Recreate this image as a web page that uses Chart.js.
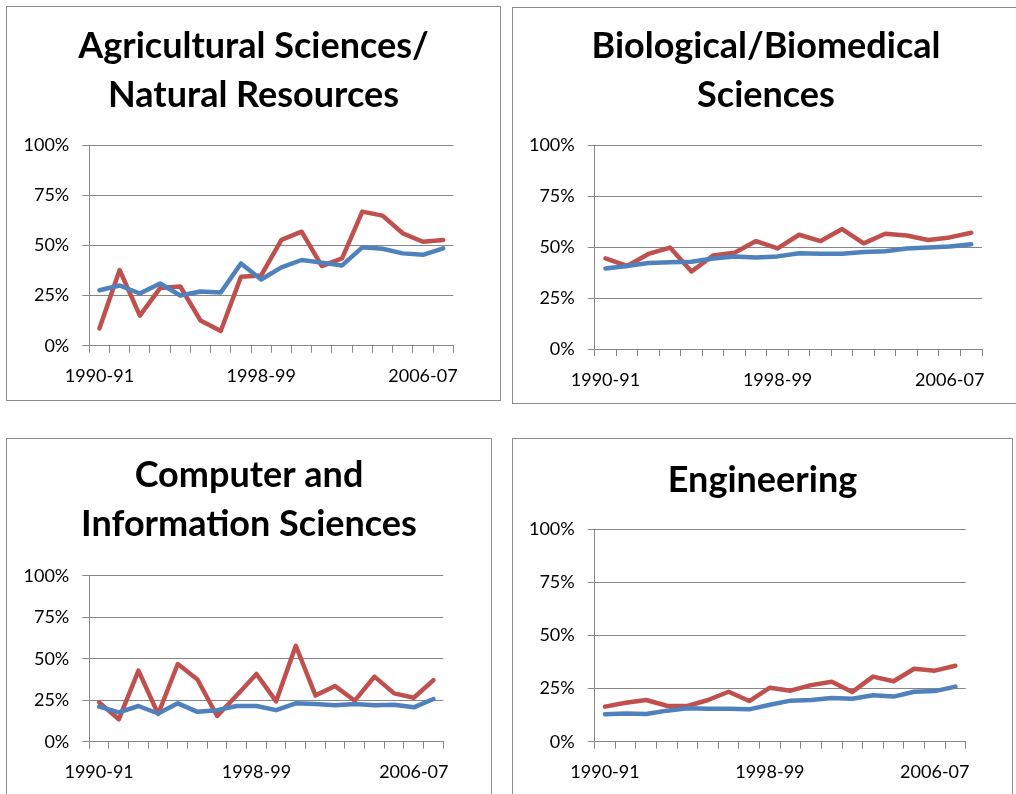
<!DOCTYPE html>
<html>
<head>
<meta charset="utf-8">
<script src="https://cdn.jsdelivr.net/npm/chart.js@4.4.1/dist/chart.umd.min.js"></script>
<style>
    html, body { margin: 0; padding: 0; background: #fff; overflow: hidden; }
    body { width: 1016px; height: 794px; position: relative; }
    .panel { position: absolute; border: 1px solid #8c8c8c; background: #fff; }
    .panel canvas { display: block; }
</style>
</head>
<body>
<div class="panel" id="p1"><canvas id="agChart"></canvas></div>
<div class="panel" id="p2"><canvas id="bioChart"></canvas></div>
<div class="panel" id="p3"><canvas id="csChart"></canvas></div>
<div class="panel" id="p4"><canvas id="engChart"></canvas></div>
<script>
// Academic years on the category axis (only every 8th is labelled)
const years = ['1990-91', '1991-92', '1992-93', '1993-94', '1994-95', '1995-96',
    '1996-97', '1997-98', '1998-99', '1999-00', '2000-01', '2001-02',
    '2002-03', '2003-04', '2004-05', '2005-06', '2006-07', '2007-08'];

// Values in percent
const agBlue = [27.6, 30, 26, 31, 25, 27, 26.5, 41, 33, 39, 42.7, 41.4, 40, 49, 48.3, 46, 45.3, 48.5];
const agRed = [8.6, 37.7, 15, 28.7, 29.5, 12.5, 7.3, 34.4, 35, 52.7, 56.8, 39.7, 43.5, 66.8, 64.8, 56, 51.8, 52.7];

const bioBlue = [39.5, 40.7, 42.2, 42.5, 42.8, 44.4, 45.3, 44.8, 45.4, 46.9, 46.7, 46.7, 47.5, 47.9, 49.3, 49.8, 50.2, 51.3];
const bioRed = [44.4, 40.7, 46.6, 49.7, 38, 45.8, 47.2, 52.9, 49.3, 56, 52.9, 58.8, 51.8, 56.5, 55.6, 53.4, 54.7, 57];

const csBlue = [21.1, 17.7, 21.5, 17, 23.1, 18, 19, 21.5, 21.5, 19, 23.1, 22.7, 22, 22.7, 21.9, 22.3, 20.7, 25.7];
const csRed = [23.7, 13.5, 42.8, 16.7, 46.8, 37.5, 15.5, 28, 40.8, 24.3, 57.8, 27.9, 33.5, 24.7, 39.2, 29.1, 26.5, 37.1];

const engBlue = [12.9, 13.2, 13, 14.6, 15.7, 15.5, 15.5, 15.2, 17.4, 19.3, 19.6, 20.5, 20.2, 21.8, 21.2, 23.5, 23.8, 25.9];
const engRed = [16.5, 18.3, 19.6, 16.9, 16.8, 19.6, 23.5, 19.1, 25.4, 24, 26.6, 28.2, 23.4, 30.6, 28.4, 34.3, 33.4, 35.7];

const yTicks = [0, 25, 50, 75, 100];

const BLUE = '#4f81bd';
const RED = '#c0504d';
const GRID = '#868686';
const TITLE_SIZE = 36;
const TITLE_LH = 49;

function makePanel(panelId, canvasId, title, blue, red, box, area, titleY) {
    const panel = document.getElementById(panelId);
    panel.style.left = box.left + 'px';
    panel.style.top = box.top + 'px';
    const cw = box.width - 2;
    const ch = box.height - 2;
    panel.style.width = cw + 'px';
    panel.style.height = ch + 'px';

    const ox = box.left + 1;
    const oy = box.top + 1;
    const yWidth = area.left - ox;
    const rightGap = ox + cw - area.right;
    const xHeight = oy + ch - area.bottom;
    const titleBlock = area.top - oy;
    const titlePadTop = titleY - oy - TITLE_LH / 2;
    const titlePadBottom = titleBlock - titlePadTop - title.length * TITLE_LH;

    const canvas = document.getElementById(canvasId);
    canvas.width = cw;
    canvas.height = ch;

    const lineStyle = {
        borderWidth: 4.5,
        pointRadius: 0,
        borderJoinStyle: 'round',
        borderCapStyle: 'round',
        tension: 0
    };

    new Chart(canvas, {
        type: 'line',
        data: {
            labels: years,
            datasets: [
                Object.assign({ data: blue, borderColor: BLUE }, lineStyle),
                Object.assign({ data: red, borderColor: RED }, lineStyle)
            ]
        },
        options: {
            responsive: false,
            maintainAspectRatio: false,
            devicePixelRatio: 1,
            animation: false,
            layout: { padding: 0 },
            plugins: {
                legend: { display: false },
                tooltip: { enabled: false },
                title: {
                    display: true,
                    text: title,
                    color: '#000',
                    font: { family: 'Lato', size: TITLE_SIZE, weight: 'bold', lineHeight: TITLE_LH / TITLE_SIZE },
                    padding: { top: titlePadTop, bottom: titlePadBottom }
                }
            },
            scales: {
                x: {
                    type: 'category',
                    offset: true,
                    afterFit: (scale) => { scale.height = xHeight; },
                    grid: {
                        offset: true,
                        drawOnChartArea: false,
                        drawTicks: true,
                        tickLength: 7,
                        color: GRID,
                        lineWidth: 1
                    },
                    border: { display: true, color: GRID, width: 1 },
                    ticks: {
                        autoSkip: false,
                        maxRotation: 0,
                        minRotation: 0,
                        padding: 13,
                        color: '#000',
                        font: { family: 'Lato', size: 18 },
                        callback: function (value, index) {
                            return index % 8 === 0 ? years[index] : '';
                        }
                    }
                },
                y: {
                    min: 0,
                    max: 100,
                    afterFit: (scale) => { scale.width = yWidth; },
                    afterBuildTicks: (scale) => {
                        scale.ticks = yTicks.map(v => ({ value: v }));
                    },
                    grid: {
                        drawTicks: true,
                        tickLength: 7,
                        color: GRID,
                        lineWidth: 1
                    },
                    border: { display: true, color: GRID, width: 1 },
                    ticks: {
                        padding: 13,
                        color: '#000',
                        font: { family: 'Lato', size: 18 },
                        callback: (value) => value + '%'
                    }
                },
                // empty right-hand axis, only reserves the gap so the title stays centred on the panel
                gap: {
                    type: 'linear',
                    position: 'right',
                    display: true,
                    afterFit: (scale) => { scale.width = rightGap; },
                    grid: { display: false },
                    border: { display: false },
                    ticks: { display: false }
                }
            }
        }
    });
}

makePanel('p1', 'agChart', ['Agricultural Sciences/', 'Natural Resources'], agBlue, agRed,
    { left: 6, top: 6, width: 495, height: 395 },
    { left: 89.3, top: 145, right: 453.3, bottom: 345.7 }, 46.5);

makePanel('p2', 'bioChart', ['Biological/Biomedical', 'Sciences'], bioBlue, bioRed,
    { left: 512, top: 7, width: 508, height: 397 },
    { left: 594.7, top: 145, right: 982, bottom: 349 }, 46);

makePanel('p3', 'csChart', ['Computer and', 'Information Sciences'], csBlue, csRed,
    { left: 6, top: 438, width: 486, height: 362 },
    { left: 89.3, top: 575.7, right: 443.3, bottom: 741.7 }, 475);

makePanel('p4', 'engChart', ['Engineering'], engBlue, engRed,
    { left: 512, top: 438, width: 501, height: 362 },
    { left: 594.7, top: 529, right: 965.7, bottom: 741.7 }, 480);
</script>
</body>
</html>
